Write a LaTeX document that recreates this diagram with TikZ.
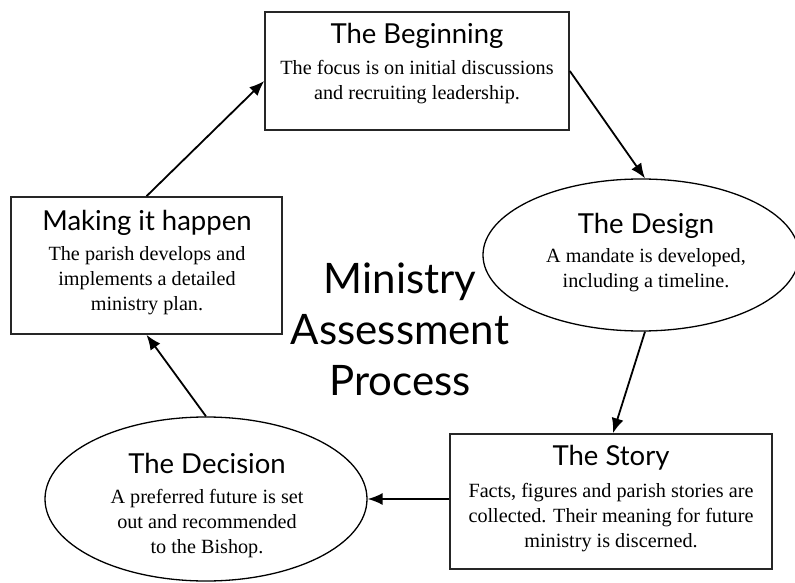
\documentclass[tikz,border=0pt]{standalone}
\usepackage{fontspec}
\setmainfont{Liberation Serif}
\newfontfamily\titlefont{Lato}
\usetikzlibrary{shapes.geometric,arrows.meta}
\tikzset{
  boxshape/.style={draw=black!85, line width=1.6pt, rectangle, inner sep=0pt},
  ellshape/.style={draw=black, line width=1.3pt, ellipse, inner sep=0pt},
  ttl/.style={anchor=base, inner sep=0pt, font=\titlefont\fontsize{27.5}{32}\selectfont},
  body/.style={anchor=base, inner sep=0pt, align=center, font=\fontsize{20.2}{25}\selectfont},
  big/.style={anchor=base, inner sep=0pt, align=center, font=\titlefont\fontsize{42}{51}\selectfont},
  arr/.style={line width=1.8pt, -{Latex[length=15pt,width=12pt]}}
}
\begin{document}
\begin{tikzpicture}[x=1pt,y=-1pt]
\useasboundingbox (0,0) rectangle (795,583);
% shapes
\node[boxshape, minimum width=304pt, minimum height=118pt] (beg) at (417,71) {};
\node[boxshape, minimum width=271pt, minimum height=137pt] (make) at (146.5,265.5) {};
\node[ellshape, minimum width=316pt, minimum height=152pt] (des) at (641,255) {};
\node[boxshape, minimum width=322pt, minimum height=135pt] (story) at (611,501.5) {};
\node[ellshape, minimum width=322pt, minimum height=164pt] (dec) at (206,499) {};
% texts (base = baseline of last line)
\node[ttl] (begT) at (417,44) {The Beginning};
\node[body] (begB) at (417,100) {The focus is on initial discussions\\and recruiting leadership.};
\node[ttl] (makeT) at (147,230) {Making it happen};
\node[body] (makeB) at (147,310) {The parish develops and\\implements a detailed\\ministry plan.};
\node[ttl] (desT) at (646,233) {The Design};
\node[body] (desB) at (646,287) {A mandate is developed,\\including a timeline.};
\node[ttl] (storyT) at (611,465) {The Story};
\node[body] (storyB) at (611,547) {Facts, figures and parish stories are\\collected. Their meaning for future\\ministry is discerned.};
\node[ttl] (decT) at (207,473) {The Decision};
\node[body] (decB) at (207,553) {A preferred future is set\\out and recommended\\to the Bishop.};
\node[big] (centre) at (400,395) {Ministry\\Assessment\\Process};
% connectors
\coordinate (begIn) at ([yshift=-10pt]beg.west);
\draw[arr] (make.north) -- (begIn);
\draw[arr] (beg.east) -- ([xshift=4pt]des.north);
\draw[arr] ([xshift=4pt]des.south) -- ([xshift=2pt]story.north);
\draw[arr] (story.west |- dec.east) -- (dec.east);
\draw[arr] (dec.north) -- (make.south);
\end{tikzpicture}
\end{document}
